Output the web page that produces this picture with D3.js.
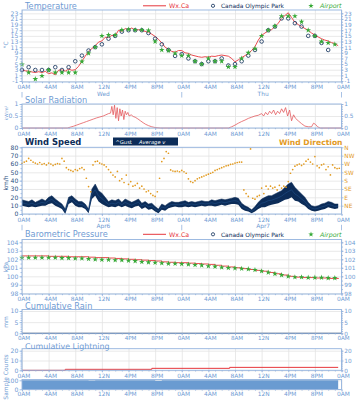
<!DOCTYPE html>
<html><head><meta charset="utf-8">
<script src="https://cdn.jsdelivr.net/npm/d3@7"></script>
<style>body{margin:0;background:#fff}text{font-family:"DejaVu Sans",sans-serif}</style>
</head><body><svg id="c" width="356" height="400"></svg>
<script>
// ---------------- DATA ----------------
const xTickHours = [0,4,8,12,16,20,24,28,32,36,40,44,48];
const xTickLabels = ["0AM","4AM","8AM","12N","4PM","8PM","0AM","4AM","8AM","12N","4PM","8PM","0AM"];
const dayNames = ["Wed","Thu"];
const dateNames = ["Apr6","Apr7"];
const legendNames = ["Wx.Ca","Canada Olympic Park","Airport"];
const dirLabels = ["NE","E","SE","S","SW","W","NW","N"];
const dirDegrees = [45,90,135,180,225,270,315,360];

// Temperature (°C): Wx.Ca half-hourly from 0AM Wed
const tempWx = [2.9,2.6,2.5,2.2,2.0,2.3,2.0,2.4,1.6,1.9,1.2,2.8,3.0,2.5,3.2,2.8,3.0,4.2,6.0,7.8,9.5,10.5,11.5,12.8,
  13.2,14.5,14.4,15.2,15.0,17.0,16.5,17.6,17.2,17.8,17.0,17.2,16.9,16.6,16.2,15.6,14.8,13.8,12.5,11.0,10.2,9.5,9.2,9.8,
  9.8,9.0,8.8,8.2,7.9,7.6,7.4,7.6,7.5,7.8,7.7,8.0,8.2,8.0,7.8,7.0,5.8,6.5,7.3,8.0,8.8,9.8,11.2,13.5,
  15.2,16.0,16.8,17.2,18.3,19.5,21.2,22.2,23.2,21.5,19.8,19.0,18.3,17.6,17.0,16.0,15.3,14.6,14.0,13.5,13.2,12.6,12.3,11.5];
// hourly stations
const tempPark = [2.9,3.9,2.9,2.9,2.9,3.9,2.9,3.9,6,8,9.8,11,12,14,15,16.5,17,17,17,16,14,12,10,7.9,
  8.5,7,6,5,6,6,7,4.5,5,6,8,10,13,17,18.3,21.2,21.2,19.5,18.3,15,15,12.5,10,null];
const tempAirport = [4.9,2,-0.3,0.8,2.9,2,2,2,2,5.9,8.8,11,15,15.3,15.3,17.1,17.3,17.1,17.1,16.9,13,10,9.8,8.8,
  8,8,6,5,7,6,6,4,4,7,9,10.5,15,17,18.5,22,22,22,20,17,15,13,12.5,12];

// Solar radiation (kW/m²)
const solarTime = [0,6.8,7.2,7.7,8.2,8.7,9.2,9.7,10.2,10.7,11.2,11.7,12.2,12.6,13.0,13.3,13.5,13.7,13.9,14.1,14.3,14.5,14.7,14.9,15.1,15.3,15.5,15.7,15.9,16.1,16.4,16.7,17.0,17.4,17.8,18.2,18.6,19.0,19.5,20.0,20.8,
  31.0,31.5,32.0,32.5,33.0,33.5,34.0,34.5,35.0,35.5,36.0,36.3,36.6,36.9,37.2,37.5,37.8,38.1,38.4,38.7,39.0,39.3,39.6,39.9,40.2,40.5,40.8,41.1,41.5,42.0,42.5,43.0,43.5,43.8,44.1,44.4,44.8,48];
const solarValue = [0,0,0.03,0.07,0.12,0.17,0.22,0.27,0.32,0.37,0.42,0.46,0.5,0.55,0.6,0.62,0.9,0.55,0.95,0.4,0.85,0.3,0.8,0.5,0.75,0.35,0.7,0.55,0.65,0.5,0.55,0.48,0.45,0.38,0.3,0.22,0.15,0.1,0.05,0.02,0,
  0,0.05,0.12,0.2,0.27,0.33,0.4,0.45,0.5,0.53,0.6,0.5,0.65,0.55,0.7,0.6,0.75,0.55,0.7,0.6,0.8,0.65,0.85,0.5,0.75,0.3,0.55,0.4,0.3,0.18,0.08,0.05,0.05,0.2,0.15,0.05,0,0];

// Wind speed (km/h), half-hourly: average (low edge) and gust (high edge)
const windAvg = [10,9,8,9,8,9,10,10,12,13,10,8,6,0,12,14,10,8,8,6,1,18,22,15,12,10,8,9,8,10,8,10,8,7,9,10,6,8,5,6,3,1,5,4,7,8,9,8,
  8,9,8,9,8,9,10,9,10,10,9,10,11,10,11,12,12,11,6,4,3,1,3,6,8,8,10,11,12,13,15,17,18,20,16,15,12,10,6,4,3,4,5,6,8,7,6,7];
const windGust = [17,16,15,17,14,16,18,16,20,22,18,15,12,6,20,22,18,15,15,12,6,30,36,28,25,20,15,17,16,18,14,18,16,14,16,18,13,15,12,13,9,6,12,10,13,15,14,14,
  15,16,14,15,14,15,16,15,15,17,16,17,18,17,18,19,20,19,13,10,8,5,9,14,18,20,22,22,24,26,28,32,36,38,32,28,24,20,14,10,9,10,12,13,15,14,12,12];
// Wind direction (degrees), every 20 minutes
const windDir = [274,280,285,300,290,280,275,270,278,268,272,265,275,270,262,268,272,270,300,285,250,240,235,230,
  240,235,245,250,240,193,148,120,265,283,285,275,270,265,255,240,225,210,200,230,180,190,170,210,
  160,175,150,155,165,140,150,135,120,125,110,100,95,120,193,283,300,337,328,238,232,230,232,228,
  235,228,220,190,175,170,180,190,195,200,205,210,215,220,225,235,240,245,250,255,260,262,268,270,
  275,278,280,280,130,110,95,351,85,80,95,100,140,110,150,135,150,140,145,130,155,140,150,145,
  175,220,240,258,265,270,262,270,285,295,280,270,310,260,250,265,270,240,255,211,265,250,245,247];

// Barometric pressure (kPa), hourly
const pressWx = [102.4,102.4,102.4,102.4,102.35,102.35,102.35,102.3,102.3,102.3,102.25,102.2,102.2,102.15,102.1,102.05,102.0,101.95,101.9,101.85,101.8,101.7,101.65,101.6,
  101.6,101.55,101.5,101.45,101.4,101.3,101.2,101.1,101.0,100.9,100.8,100.7,100.6,100.45,100.3,100.15,100.0,99.9,99.85,99.85,99.8,99.8,99.75,99.75];
const pressAirport = [102.2,102.2,102.2,102.2,102.2,102.2,102.15,102.15,102.1,102.1,102.05,102.0,101.95,101.95,101.9,101.9,101.85,101.8,101.7,101.65,101.6,101.55,101.5,101.5,
  101.45,101.4,101.35,101.3,101.2,101.15,101.05,101.0,100.95,100.9,100.85,100.75,100.6,100.45,100.3,100.15,100.0,99.9,99.9,99.85,99.85,99.85,99.8,99.8];

// Cumulative rain (mm), hourly
const rainTotal = [0,0,0,0,0,0,0,0,0,0,0,0,0,0,0,0,0,0,0,0,0,0,0,0,0,0,0,0,0,0,0,0,0,0,0,0,0,0,0,0,0,0,0,0,0,0,0,0];
// Cumulative lightning
const lightTime = [0,6.5,19.5,31.2,47.5];
const lightValue = [0,1,2,3,3];
// Sample counts, hourly
const sampleCount = [100,100,100,100,100,100,100,100,100,100,97,100,100,100,100,100,100,100,100,100,96,100,100,100,
  100,100,100,100,100,100,100,100,100,100,100,100,100,100,100,100,100,100,100,100,100,100,100,100];

// ---------------- DRAWING ----------------
const C = {axis:"#93b3de", text:"#6f9bd3", grid:"#e3e3e3", red:"#e6373c", navy:"#0c2c58", green:"#36a936", orange:"#e29a1f", fill:"#6a9bd1"};
const svg = d3.select("#c");
const x = d3.scaleLinear().domain([0,48]).range([22,341.5]);
const TF = "5.9px";

function styleAxis(s, color, fs){
  s.select(".domain").remove();
  s.selectAll("line").attr("stroke", C.axis).attr("stroke-width",0.8);
  s.selectAll("text").attr("fill", color).attr("font-size", fs).attr("font-family","DejaVu Sans");
}

function panel(o){
  const g = svg.append("g");
  const gGrid = g.append("g"), gData = g.append("g"), gAx = g.append("g");
  const h = o.bottom - o.top, w = x(48)-x(0);
  gGrid.append("g").attr("transform",`translate(0,${o.bottom})`)
    .call(d3.axisBottom(x).tickValues(xTickHours).tickSize(-h).tickFormat(""))
    .call(s=>{s.select(".domain").remove(); s.selectAll("line").attr("stroke",C.grid).attr("stroke-width",0.8);});
  gGrid.append("g").attr("transform",`translate(${x(0)},0)`)
    .call(d3.axisLeft(o.y).tickValues(o.grid||o.major).tickSize(-w).tickFormat(""))
    .call(s=>{s.select(".domain").remove(); s.selectAll("line").attr("stroke",C.grid).attr("stroke-width",0.8);});
  gAx.append("rect").attr("x",x(0)).attr("y",o.top).attr("width",w).attr("height",h)
    .attr("fill","none").attr("stroke",C.axis).attr("stroke-width",0.9);
  gAx.append("g").attr("transform",`translate(${x(0)},0)`)
    .call(d3.axisLeft(o.y).tickValues(o.major).tickSize(2.5).tickPadding(1.2).tickFormat(o.fmt||(d=>d)))
    .call(s=>styleAxis(s,o.leftColor||C.text,"6.1px"));
  if(o.minor) gAx.append("g").attr("transform",`translate(${x(0)},0)`)
    .call(d3.axisLeft(o.y).tickValues(o.minor).tickSize(1.5).tickFormat(""))
    .call(s=>styleAxis(s,C.text,"6px"));
  if(o.right!==false){
    const ry = o.ry||o.y;
    gAx.append("g").attr("transform",`translate(${x(48)},0)`)
      .call(d3.axisRight(ry).tickValues(o.rmajor||o.major).tickSize(2).tickPadding(0.8).tickFormat(o.rfmt||o.fmt||(d=>d)))
      .call(s=>styleAxis(s,o.rightColor||C.text,"5.8px"));
    if(o.rminor||o.minor) gAx.append("g").attr("transform",`translate(${x(48)},0)`)
      .call(d3.axisRight(ry).tickValues(o.rminor||o.minor).tickSize(1.5).tickFormat(""))
      .call(s=>styleAxis(s,C.text,"6px"));
  }
  gAx.append("g").attr("transform",`translate(0,${o.bottom})`)
    .call(d3.axisBottom(x).tickValues(xTickHours).tickSize(2).tickPadding(o.xpad??1).tickFormat((d,i)=>xTickLabels[i]))
    .call(s=>{styleAxis(s,C.text,o.xfs||TF); s.selectAll("text").attr("dx","1.5");});
  gAx.append("g").attr("transform",`translate(0,${o.bottom})`)
    .call(d3.axisBottom(x).tickValues(d3.range(0,49)).tickSize(1.2).tickFormat(""))
    .call(s=>styleAxis(s,C.text,"6px"));
  if(o.title) g.append("text").attr("x",25).attr("y",o.titleY).attr("font-size",o.titleSize||"8.2px")
    .attr("font-weight",o.titleWeight||"normal").attr("fill",o.titleColor||C.text).text(o.title);
  if(o.ylabel) g.append("text").attr("transform",`translate(7.5,${o.ylabelY}) rotate(-90)`)
    .attr("text-anchor","middle").attr("font-size",o.ylabelSize||"6px").attr("fill",o.ylabelColor||C.text).text(o.ylabel);
  if(o.days){
    o.days.forEach((d,i)=>{
      g.append("text").attr("x",x(12+24*i)+1.5).attr("y",o.dayY).attr("text-anchor","middle")
        .attr("font-size",TF).attr("fill",C.text).text(d);
    });
    [0,24,48].forEach(hh=>g.append("line").attr("x1",x(hh)).attr("x2",x(hh)).attr("y1",o.dayY-3.5).attr("y2",o.dayY+2)
      .attr("stroke",C.axis).attr("stroke-width",0.8));
  }
  return gData;
}

function legend(yy){
  const g = svg.append("g");
  g.append("line").attr("x1",143).attr("x2",166).attr("y1",yy-2.5).attr("y2",yy-2.5).attr("stroke",C.red).attr("stroke-width",1);
  g.append("text").attr("x",169).attr("y",yy).attr("font-size","6.3px").attr("fill",C.red).text(legendNames[0]);
  g.append("circle").attr("cx",213).attr("cy",yy-2.5).attr("r",1.6).attr("fill","none").attr("stroke",C.navy).attr("stroke-width",0.8);
  g.append("text").attr("x",221).attr("y",yy).attr("font-size","5.9px").attr("fill",C.navy).text(legendNames[1]);
  g.append("path").attr("transform",`translate(311,${yy-2.5})`).attr("d",d3.symbol(d3.symbolStar).size(9)()).attr("fill",C.green);
  g.append("text").attr("x",320).attr("y",yy).attr("font-size","6.3px").attr("font-style","italic").attr("fill",C.green).text(legendNames[2]);
}

// ---- Temperature
const yT = d3.scaleLinear().domain([-1,23]).range([81,13.3]);
const gT = panel({y:yT, top:10, bottom:82, major:d3.range(-1,24,2), minor:d3.range(-1,24,1), title:"Temperature", titleY:8.8,
  ylabel:"°C", ylabelY:45, days:dayNames, dayY:95.5, xpad:1.2});
legend(8.3);
gT.append("path").datum(tempWx).attr("fill","none").attr("stroke",C.red).attr("stroke-width",0.9)
  .attr("d",d3.line().x((d,i)=>x(i*0.5)).y(d=>yT(d)));
gT.selectAll("circle.p").data(tempPark.map((v,i)=>[i,v]).filter(d=>d[1]!=null)).join("circle")
  .attr("cx",d=>x(d[0])).attr("cy",d=>yT(d[1])).attr("r",1.8).attr("fill","white").attr("fill-opacity",0.3)
  .attr("stroke",C.navy).attr("stroke-width",0.8);
gT.selectAll("path.s").data(tempAirport.map((v,i)=>[i,v])).join("path")
  .attr("transform",d=>`translate(${x(d[0])},${yT(d[1])})`).attr("d",d3.symbol(d3.symbolStar).size(10)()).attr("fill",C.green);

// ---- Solar
const yS = d3.scaleLinear().domain([0,1]).range([128,104]);
const gS = panel({y:yS, top:104, bottom:128, major:[0,0.5,1], minor:d3.range(0,1.01,0.1), title:"Solar Radiation", titleY:103,
  ylabel:"kW/m²", ylabelSize:"4.5px", ylabelY:113, xpad:1.5});
gS.append("path").datum(solarTime.map((t,i)=>[t,solarValue[i]])).attr("fill","none").attr("stroke","#e35a5e").attr("stroke-width",0.8)
  .attr("d",d3.line().x(d=>x(d[0])).y(d=>yS(d[1])));

// ---- Wind
const yW = d3.scaleLinear().domain([0,80]).range([214,147.3]);
const yD = d3.scaleLinear().domain([0,360]).range([214,147.3]);
const gW = panel({y:yW, ry:yD, top:147.3, bottom:214, major:d3.range(0,81,10), minor:d3.range(0,81,5),
  rmajor:dirDegrees, rfmt:(d,i)=>dirLabels[i], rminor:[], rightColor:C.orange, leftColor:"#2c4f80",
  title:"Wind Speed", titleY:145, titleColor:C.navy, titleWeight:"bold", titleSize:"8.4px",
  ylabel:"km/h", ylabelY:183, ylabelColor:"#2c4f80", days:dateNames, dayY:228.3, xpad:2});
const windPts = windAvg.map((v,i)=>({t:i*0.5, lo:v, hi:windGust[i]}));
gW.append("path").datum(windPts).attr("fill",C.navy)
  .attr("d",d3.area().x(d=>x(d.t)).y0(d=>yW(d.lo)).y1(d=>yW(d.hi)));
gW.append("path").datum(windPts).attr("fill","none").attr("stroke",C.navy).attr("stroke-width",0.5)
  .attr("d",d3.line().x(d=>x(d.t)).y(d=>yW(d.hi)));
gW.append("path").datum(windPts).attr("fill","none").attr("stroke","#1f4d86").attr("stroke-width",0.6)
  .attr("d",d3.line().x(d=>x(d.t)).y(d=>yW((d.lo+d.hi)/2)));
gW.selectAll("circle").data(windDir.map((v,i)=>[i/3,v])).join("circle")
  .attr("cx",d=>x(d[0])).attr("cy",d=>yD(d[1])).attr("r",0.85).attr("fill",C.orange);
svg.append("rect").attr("x",113).attr("y",137.5).attr("width",65).attr("height",8).attr("fill",C.navy);
svg.append("text").attr("x",115.5).attr("y",143.6).attr("font-size","5.2px").attr("fill","white").text("^Gust");
svg.append("text").attr("x",139).attr("y",143.6).attr("font-size","5.2px").attr("font-style","italic").attr("fill","white").text("Average v");
svg.append("text").attr("x",342.5).attr("y",145).attr("text-anchor","end").attr("font-size","7.6px").attr("font-weight","bold")
  .attr("fill",C.orange).text("Wind Direction");

// ---- Pressure
const yP = d3.scaleLinear().domain([98,104]).range([293.3,242.3]);
const gP = panel({y:yP, top:239.5, bottom:294, major:d3.range(98,104.1,1), minor:d3.range(98,104.1,0.5),
  title:"Barometric Pressure", titleY:236.5, ylabel:"kPa", ylabelY:267, xpad:0.5});
legend(236.8);
const pPts = pressWx.map((v,i)=>[i,v]); pPts.push([47.6, pressWx[47]]);
gP.append("path").datum(pPts).attr("fill","none").attr("stroke",C.red).attr("stroke-width",0.9)
  .attr("d",d3.line().curve(d3.curveStepAfter).x(d=>x(d[0])).y(d=>yP(d[1])));
gP.selectAll("path.s").data(pressAirport.map((v,i)=>[i,v])).join("path")
  .attr("transform",d=>`translate(${x(d[0])},${yP(d[1])})`).attr("d",d3.symbol(d3.symbolStar).size(10)()).attr("fill",C.green);

// ---- Rain
const yR = d3.scaleLinear().domain([0,10]).range([333.3,311]);
const gR = panel({y:yR, top:309.5, bottom:333.3, major:[0,5,10], minor:d3.range(0,10.1,1), title:"Cumulative Rain", titleY:308.5,
  ylabel:"mm", ylabelY:322, xpad:1.0, xfs:"5.6px"});
const rPts = rainTotal.map((v,i)=>[i,v]); rPts.push([48,0]);
gR.append("path").datum(rPts).attr("fill","none").attr("stroke","#44546e").attr("stroke-width",1.3)
  .attr("d",d3.line().x(d=>x(d[0])).y(d=>yR(d[1])));

// ---- Lightning
const yL = d3.scaleLinear().domain([0,20]).range([370.3,350.7]);
const gL = panel({y:yL, top:348.7, bottom:370.3, major:[0,10,20], minor:d3.range(0,20.1,2), title:"Cumulative Lightning",
  titleY:349, titleSize:"7.9px", xpad:1.2});
gL.append("path").datum(lightTime.map((t,i)=>[t,lightValue[i]])).attr("fill","none").attr("stroke",C.red).attr("stroke-width",1)
  .attr("d",d3.line().curve(d3.curveStepAfter).x(d=>x(d[0])).y(d=>yL(d[1])));

// ---- Sample counts
const yC = d3.scaleLinear().domain([0,100]).range([389.3,380.3]);
const gC = panel({y:yC, top:379.5, bottom:389.5, major:[0,100], right:false, xpad:0});
const cPts = sampleCount.map((v,i)=>[i,v]); cPts.push([47.5, sampleCount[47]]);
gC.append("path").datum(cPts).attr("fill",C.fill)
  .attr("d",d3.area().curve(d3.curveStepAfter).x(d=>x(d[0])).y0(yC(0)).y1(d=>yC(d[1])));
svg.append("text").attr("transform","translate(7.5,377) rotate(-90)").attr("text-anchor","middle")
  .attr("font-size","6px").attr("fill",C.text).text("Sample Counts");
</script></body></html>
